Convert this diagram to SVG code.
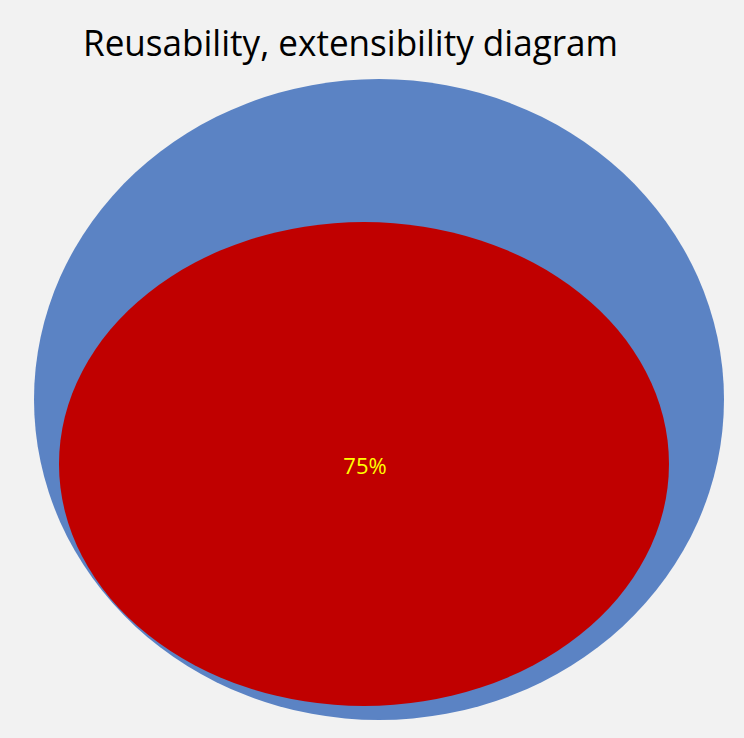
<svg xmlns="http://www.w3.org/2000/svg" width="744" height="738" viewBox="0 0 744 738">
<style>
.title{font-family:"Open Sans","Liberation Sans",sans-serif;font-size:37px;fill:#000}
.lbl{font-family:"Open Sans","Liberation Sans",sans-serif;font-size:22px;fill:#FFFF00}
</style>
<rect width="744" height="738" fill="#F2F2F2"/>
<text class="title" x="83" y="56" textLength="535" lengthAdjust="spacingAndGlyphs">Reusability, extensibility diagram</text>
<g id="outer">
<ellipse cx="379" cy="399.5" rx="345" ry="320.5" fill="#5B83C4"/>
</g>
<g id="inner">
<ellipse cx="364" cy="464" rx="305" ry="242" fill="#C00000"/>
<text class="lbl" x="365" y="474" text-anchor="middle">75%</text>
</g>
<g id="connectors"/>
</svg>
